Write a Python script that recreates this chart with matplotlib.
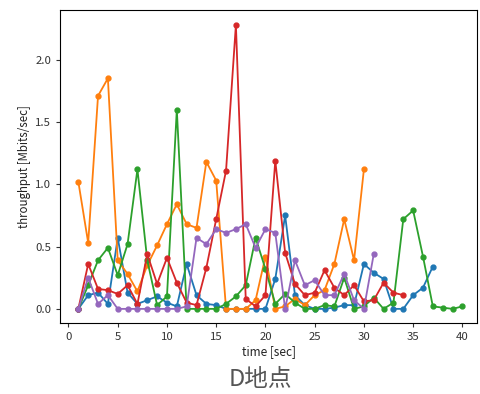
import matplotlib
matplotlib.use("Agg")
import matplotlib.pyplot as plt

plt.rcParams['font.family'] = ['Noto Sans CJK JP', 'DejaVu Sans']

# seconds for each series
t_blue = list(range(1, 38))
t_orange = list(range(1, 31))
t_green = list(range(1, 41))
t_red = list(range(1, 35))
t_purple = list(range(1, 32))

# throughput values [Mbits/sec]
blue = [0.0, 0.11, 0.13, 0.04, 0.57, 0.13, 0.04, 0.07, 0.10, 0.05,
        0.02, 0.36, 0.11, 0.04, 0.03, 0.0, 0.0, 0.0, 0.0, 0.0,
        0.24, 0.75, 0.11, 0.03, 0.0, 0.0, 0.01, 0.03, 0.03, 0.36,
        0.29, 0.24, 0.0, 0.0, 0.11, 0.17, 0.34]
orange = [1.02, 0.53, 1.71, 1.85, 0.39, 0.28, 0.14, 0.35, 0.51, 0.68,
          0.84, 0.68, 0.65, 1.18, 1.03, 0.0, 0.0, 0.0, 0.07, 0.42,
          0.0, 0.02, 0.08, 0.03, 0.11, 0.15, 0.36, 0.72, 0.39, 1.12]
green = [0.0, 0.19, 0.39, 0.49, 0.27, 0.52, 1.12, 0.39, 0.03, 0.10,
         1.60, 0.0, 0.0, 0.0, 0.0, 0.04, 0.10, 0.19, 0.57, 0.32,
         0.04, 0.12, 0.05, 0.0, 0.0, 0.03, 0.02, 0.25, 0.0, 0.02,
         0.09, 0.0, 0.05, 0.72, 0.79, 0.42, 0.02, 0.01, 0.0, 0.02]
red = [0.0, 0.36, 0.16, 0.15, 0.12, 0.19, 0.04, 0.44, 0.20, 0.41,
       0.21, 0.05, 0.03, 0.33, 0.72, 1.11, 2.28, 0.08, 0.02, 0.11,
       1.19, 0.45, 0.20, 0.11, 0.13, 0.31, 0.17, 0.11, 0.19, 0.06,
       0.07, 0.21, 0.13, 0.11]
purple = [0.0, 0.25, 0.04, 0.11, 0.0, 0.0, 0.0, 0.0, 0.0, 0.0,
          0.0, 0.02, 0.57, 0.52, 0.64, 0.61, 0.64, 0.68, 0.49, 0.64,
          0.61, 0.0, 0.39, 0.19, 0.23, 0.11, 0.11, 0.28, 0.07, 0.0,
          0.44]

series = [
    (t_blue, blue, "#1f77b4"),
    (t_orange, orange, "#ff7f0e"),
    (t_green, green, "#2ca02c"),
    (t_red, red, "#d62728"),
    (t_purple, purple, "#9467bd"),
]

fig = plt.figure(figsize=(4.81, 3.94), dpi=100)
ax = fig.add_axes([0.125, 0.180, 0.867, 0.795])

for t, v, c in series:
    ax.plot(t, v, color=c, linewidth=1.3, marker="o", markersize=3.5)

ax.set_xlim(-0.85, 41.5)
ax.set_ylim(-0.114, 2.40)
ax.set_xticks([0, 5, 10, 15, 20, 25, 30, 35, 40])
ax.set_yticks([0.0, 0.5, 1.0, 1.5, 2.0])
ax.tick_params(labelsize=8.2, colors="#333333", length=3)
ax.set_xlabel("time [sec]", fontsize=8.5, color="#222222", labelpad=2)
ax.set_ylabel("throughput [Mbits/sec]", fontsize=8.3, color="#222222", labelpad=3)

fig.text(0.541, 0.008, "D地点", fontsize=17, color="#555555", ha="center", va="bottom")

fig.savefig("out.png", dpi=100)
